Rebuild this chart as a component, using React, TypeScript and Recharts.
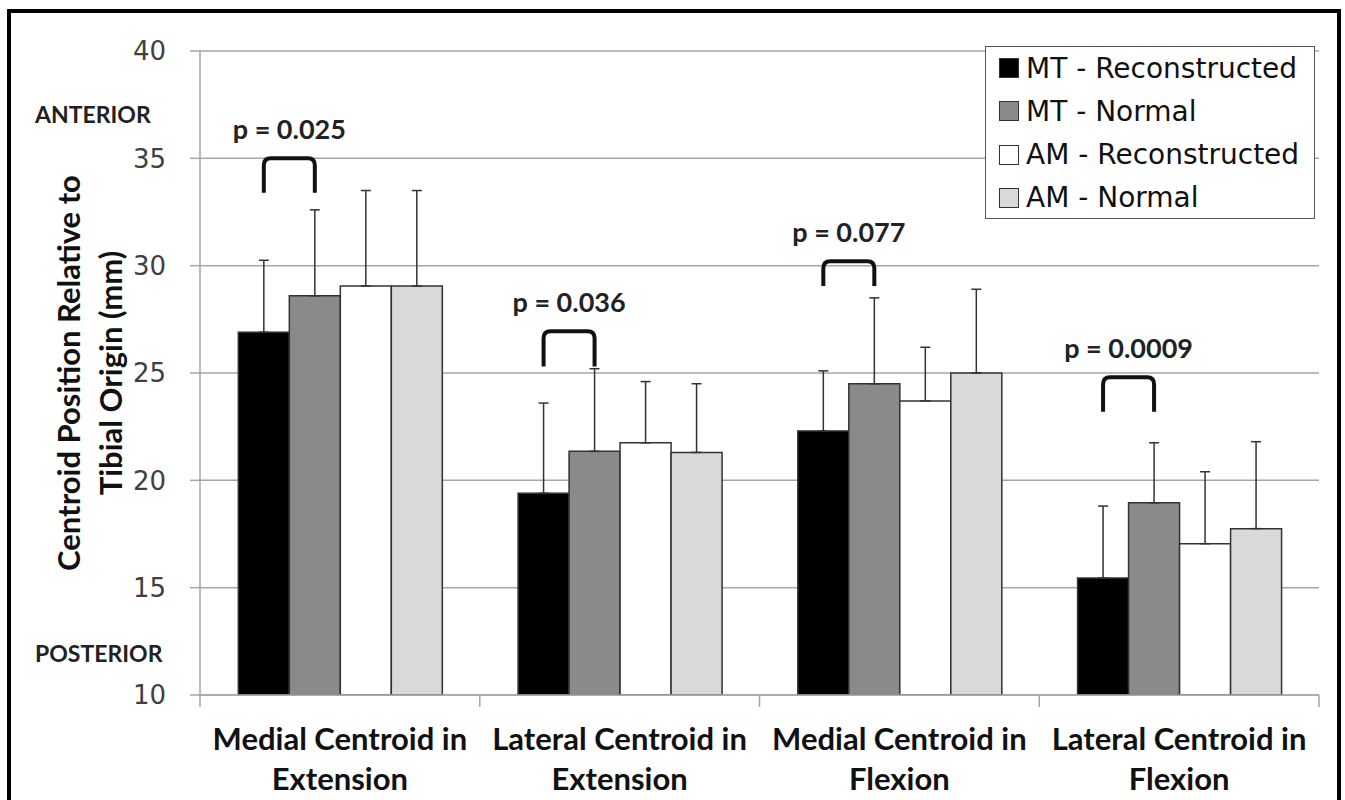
import React from 'react';
import { BarChart, Bar, XAxis, YAxis, CartesianGrid, ErrorBar } from 'recharts';

const categories = [
  'Medial Centroid in Extension',
  'Lateral Centroid in Extension',
  'Medial Centroid in Flexion',
  'Lateral Centroid in Flexion',
];

// bar heights (mm) and the upward error (SD)
const mtReconstructed = [26.9, 19.4, 22.3, 15.45];
const mtReconstructedSd = [3.35, 4.2, 2.8, 3.35];
const mtNormal = [28.6, 21.35, 24.5, 18.95];
const mtNormalSd = [4.0, 3.85, 4.0, 2.8];
const amReconstructed = [29.05, 21.75, 23.7, 17.05];
const amReconstructedSd = [4.45, 2.85, 2.5, 3.35];
const amNormal = [29.05, 21.3, 25.0, 17.75];
const amNormalSd = [4.45, 3.2, 3.9, 4.05];

const seriesNames = ['MT - Reconstructed', 'MT - Normal', 'AM - Reconstructed', 'AM - Normal'];
const seriesColors = ['#000000', '#8a8a8a', '#ffffff', '#d9d9d9'];

const yTicks = [10, 15, 20, 25, 30, 35, 40];

// significance brackets between MT - Reconstructed and MT - Normal
const pLabels = ['p = 0.025', 'p = 0.036', 'p = 0.077', 'p = 0.0009'];
const bracketTop = [35.0, 26.95, 30.2, 24.8];
const bracketBottom = [33.4, 25.3, 29.05, 23.2];

const data = categories.map((name, i) => ({
  name,
  mtRec: mtReconstructed[i],
  mtRecErr: [0, mtReconstructedSd[i]],
  mtNorm: mtNormal[i],
  mtNormErr: [0, mtNormalSd[i]],
  amRec: amReconstructed[i],
  amRecErr: [0, amReconstructedSd[i]],
  amNorm: amNormal[i],
  amNormErr: [0, amNormalSd[i]],
  p: pLabels[i],
  bTop: bracketTop[i],
  bBottom: bracketBottom[i],
}));

const GRID = '#a6a6a6';
const OUTLINE = '#333333';
const yMin = yTicks[0];

// first bar also carries the p-value bracket
const BracketBar = (props: any) => {
  const { x, y, width, height, fill, payload } = props;
  const perUnit = height / (payload.mtRec - yMin);
  const base = y + height;
  const toY = (v: number) => base - (v - yMin) * perUnit;
  const left = x + width / 2;
  const right = x + width * 1.5;
  const top = toY(payload.bTop);
  const bottom = toY(payload.bBottom);
  const r = 7;
  const d = `M${left},${bottom} L${left},${top + r} Q${left},${top} ${left + r},${top} L${right - r},${top} Q${right},${top} ${right},${top + r} L${right},${bottom}`;
  return (
    <g>
      <rect x={x} y={y} width={width} height={height} fill={fill} stroke={OUTLINE} strokeWidth={1.5} />
      <path d={d} fill="none" stroke="#111" strokeWidth={4} strokeLinejoin="round" />
      <text
        x={(left + right) / 2}
        y={top - 19}
        textAnchor="middle"
        fontFamily="Lato"
        fontWeight={700}
        fontSize={27}
        fill="#222"
      >
        {payload.p}
      </text>
    </g>
  );
};

// two-line category label plus tick marks at the category boundaries
const CategoryTick = (props: any) => {
  const { x, y, payload, index } = props;
  const half = payload.offset || 0;
  const words = String(payload.value).split(' ');
  const last = words.pop();
  const style = { fontFamily: 'Lato', fontWeight: 700, fontSize: 31, fill: '#111' };
  return (
    <g>
      <line x1={x - half} y1={y} x2={x - half} y2={y + 12} stroke={GRID} strokeWidth={1.5} />
      {index === categories.length - 1 && (
        <line x1={x + half} y1={y} x2={x + half} y2={y + 12} stroke={GRID} strokeWidth={1.5} />
      )}
      <text x={x} y={y + 55} textAnchor="middle" style={style}>
        {words.join(' ')}
      </text>
      <text x={x} y={y + 95} textAnchor="middle" style={style}>
        {last}
      </text>
    </g>
  );
};

const sideText: React.CSSProperties = {
  position: 'absolute',
  fontFamily: 'Lato',
  fontWeight: 700,
  fontSize: 23,
  color: '#222',
  lineHeight: '22px',
};

export default function App() {
  const barKeys = ['mtRec', 'mtNorm', 'amRec', 'amNorm'];
  return (
    <div
      style={{
        position: 'absolute',
        left: 0,
        top: 0,
        width: 1345,
        height: 800,
        background: '#fff',
        overflow: 'hidden',
      }}
    >
      <BarChart
        width={1345}
        height={800}
        data={data}
        margin={{ top: 51, right: 26, bottom: 0, left: 0 }}
        barCategoryGap="13.7%"
        barGap={0}
      >
        <CartesianGrid vertical={false} stroke={GRID} strokeWidth={1.5} />
        <XAxis
          dataKey="name"
          height={105}
          tickLine={false}
          tickSize={0}
          tickMargin={0}
          axisLine={{ stroke: GRID, strokeWidth: 1.5 }}
          tick={<CategoryTick />}
          interval={0}
        />
        <YAxis
          domain={[yTicks[0], yTicks[yTicks.length - 1]]}
          ticks={yTicks}
          width={200}
          tickSize={10}
          tickMargin={24}
          axisLine={{ stroke: GRID, strokeWidth: 1.5 }}
          tickLine={{ stroke: GRID, strokeWidth: 1.5 }}
          tick={{ fill: '#404040', fontSize: 26, fontFamily: 'DejaVu Sans' }}
          allowDataOverflow
        />
        {barKeys.map((key, i) => (
          <Bar
            key={key}
            dataKey={key}
            name={seriesNames[i]}
            fill={seriesColors[i]}
            stroke={OUTLINE}
            strokeWidth={1.5}
            isAnimationActive={false}
            shape={i === 0 ? <BracketBar /> : undefined}
          >
            <ErrorBar dataKey={`${key}Err`} width={5} stroke={OUTLINE} strokeWidth={1.5} direction="y" />
          </Bar>
        ))}
      </BarChart>

      {/* y axis title */}
      <div
        style={{
          position: 'absolute',
          left: 89 - 260,
          top: 373 - 42,
          width: 520,
          height: 84,
          transform: 'rotate(-90deg)',
          transformOrigin: 'center',
          textAlign: 'center',
          fontFamily: 'Lato',
          fontWeight: 700,
          fontSize: 31,
          lineHeight: '42px',
          color: '#111',
        }}
      >
        Centroid Position Relative to
        <br />
        Tibial Origin (mm)
      </div>

      <div style={{ ...sideText, left: 35, top: 103 }}>ANTERIOR</div>
      <div style={{ ...sideText, left: 35, top: 642 }}>POSTERIOR</div>

      {/* legend */}
      <div
        style={{
          position: 'absolute',
          left: 985,
          top: 46,
          width: 330,
          height: 173,
          boxSizing: 'border-box',
          border: '1.5px solid #555',
          background: '#fff',
        }}
      >
        {seriesNames.map((name, i) => (
          <div
            key={name}
            style={{
              position: 'absolute',
              left: 13,
              top: 4 + i * 43.3,
              height: 34,
              display: 'flex',
              alignItems: 'center',
              whiteSpace: 'nowrap',
            }}
          >
            <span
              style={{
                display: 'inline-block',
                width: 20,
                height: 20,
                background: seriesColors[i],
                border: '1.5px solid #333',
                boxSizing: 'border-box',
                marginRight: 7,
              }}
            />
            <span style={{ fontFamily: 'DejaVu Sans', fontSize: 28, color: '#111' }}>{name}</span>
          </div>
        ))}
      </div>

      {/* outer frame */}
      <div
        style={{
          position: 'absolute',
          left: 7,
          top: 9,
          width: 1334,
          height: 800,
          boxSizing: 'border-box',
          border: '4px solid #000',
          pointerEvents: 'none',
        }}
      />
    </div>
  );
}
